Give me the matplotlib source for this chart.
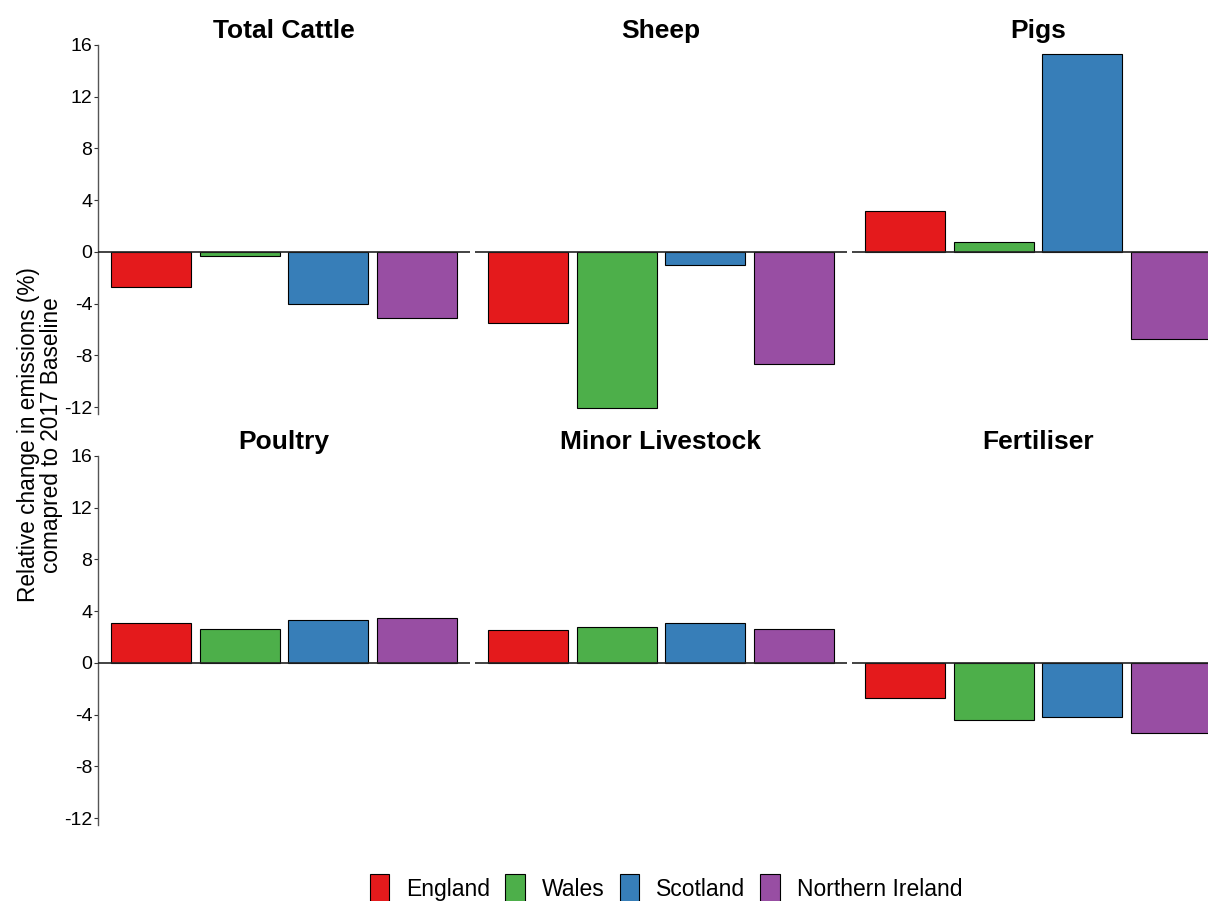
import matplotlib
matplotlib.use("Agg")
import matplotlib.pyplot as plt
from matplotlib.patches import Patch
import numpy as np

plt.rcParams["font.family"] = ["Liberation Sans", "DejaVu Sans"]
plt.rcParams["axes.unicode_minus"] = False

# ── Data: relative change vs 2017 baseline (%)
sources = ["Total Cattle", "Sheep", "Pigs", "Poultry", "Minor Livestock", "Fertiliser"]
nations = ["England", "Wales", "Scotland", "Northern Ireland"]

total_cattle = [-2.7, -0.3, -4.0, -5.1]
sheep        = [-5.5, -12.1, -1.0, -8.7]
pigs         = [3.2, 0.75, 15.3, -6.7]
poultry      = [3.1, 2.6, 3.3, 3.5]
minor_stock  = [2.55, 2.8, 3.1, 2.6]
fertiliser   = [-2.7, -4.4, -4.2, -5.4]

yticks = [-12, -8, -4, 0, 4, 8, 12, 16]

COLORS = ["#E41A1C", "#4DAF4A", "#377EB8", "#984EA3"]

series = [total_cattle, sheep, pigs, poultry, minor_stock, fertiliser]

fig = plt.figure(figsize=(12.08, 9.01), dpi=100)

W, H = 1208, 901
col_left = [98, 475, 852]
row_top = [45, 456]
pw, ph = 372, 368.5

x = np.arange(1, len(nations) + 1)

for k, (name, vals) in enumerate(zip(sources, series)):
    r, c = divmod(k, 3)
    ax = fig.add_axes([col_left[c] / W, (H - row_top[r] - ph) / H, pw / W, ph / H])
    ax.bar(x, vals, width=0.9, color=COLORS, edgecolor="black", linewidth=0.8, zorder=2)
    ax.axhline(0, color="#222222", linewidth=1.2, zorder=3)
    ax.set_xlim(0.4, 4.6)
    ax.set_ylim(-12.5, 16)
    ax.set_xticks([])
    for side in ["top", "right", "bottom"]:
        ax.spines[side].set_visible(False)
    if c == 0:
        ax.spines["left"].set_color("#555555")
        ax.spines["left"].set_linewidth(1.0)
        ax.set_yticks(yticks)
        ax.tick_params(axis="y", length=3, color="#333333", labelsize=14, pad=1)
    else:
        ax.spines["left"].set_visible(False)
        ax.set_yticks([])
    ax.set_title(name, fontsize=19, fontweight="bold", pad=5)

fig.text(40 / W, (H - 435) / H,
         "Relative change in emissions (%)\ncomapred to 2017 Baseline",
         rotation=90, ha="center", va="center", fontsize=16.3, linespacing=0.95)

handles = [Patch(facecolor=col, edgecolor="black", linewidth=0.8) for col in COLORS]
fig.legend(handles, nations, loc="center", bbox_to_anchor=(666 / W, (H - 888) / H),
           ncol=4, frameon=False, fontsize=16.5, handlelength=0.85, handleheight=1.5,
           handletextpad=0.75, columnspacing=0.65, borderpad=0)

fig.savefig("out.png", dpi=100)
